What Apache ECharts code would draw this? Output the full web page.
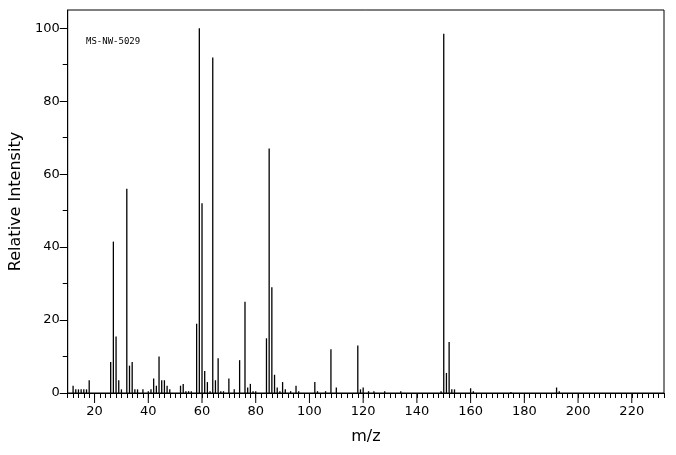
<!DOCTYPE html>
<html><head><meta charset="utf-8">
<script src="https://cdn.jsdelivr.net/npm/echarts@6/dist/echarts.min.js"></script>
</head><body style="margin:0">
<div id="c" style="width:676px;height:455px"></div>
<script>
const mz = [12,13,14,15,16,17,18,26,27,28,29,30,32,33,34,35,36,38,40,41,42,43,44,45,46,47,48,52,53,54,55,56,58,59,60,61,62,63,64,65,66,67,68,70,72,74,76,77,78,79,80,84,85,86,87,88,89,90,91,93,95,96,102,103,106,108,110,118,119,120,122,124,128,134,149,150,151,152,153,154,160,161,175,192,193];
const intensity = [2,1,1,1,1,1,3.5,8.5,41.5,15.5,3.5,1,56,7.5,8.5,1,1,1,0.5,1,4,2,10,3.5,3.5,2,1,2,2.5,0.5,0.5,0.5,19,100,52,6,3,0.5,92,3.5,9.5,0.5,0.5,4,1,9,25,1.5,2.5,0.5,0.5,15,67,29,5,1.5,0.5,3,1,0.5,2,0.5,3,0.5,0.5,12,1.5,13,1,1.5,0.5,0.5,0.5,0.5,0.5,98.5,5.5,14,1,1,1.3,0.5,0.3,1.5,0.5];
const xTicks = [20,40,60,80,100,120,140,160,180,200,220];
const yTicks = [0,20,40,60,80,100];
const title = 'MS-NW-5029';
const ch = echarts.init(document.getElementById('c'));
const font = 'DejaVu Sans';
const XMIN = 10, XMAX = 232;
ch.setOption({
  animation:false,
  grid:{left:63,right:12,top:10,bottom:62,show:true,borderColor:'#000',borderWidth:1},
  graphic:[{type:'text',left:86,top:37,style:{text:title,font:'9px "DejaVu Sans Mono"',fill:'#000'}}],
  xAxis:{type:'value',min:XMIN,max:XMAX,interval:2,name:'m/z',nameLocation:'middle',nameGap:36,
    nameTextStyle:{fontFamily:font,fontSize:16,color:'#000'},
    axisLine:{show:true,onZero:false,lineStyle:{color:'#000'}},
    axisTick:{show:true,length:5,lineStyle:{color:'#000'}},
    axisLabel:{fontFamily:font,fontSize:13,color:'#000',margin:12,customValues:xTicks},
    splitLine:{show:false}},
  yAxis:{type:'value',min:0,max:105,interval:20,name:'Relative Intensity',nameLocation:'middle',nameGap:40,
    nameTextStyle:{fontFamily:font,fontSize:16,color:'#000'},
    axisLine:{show:true,lineStyle:{color:'#000'}},
    axisTick:{show:true,length:8,lineStyle:{color:'#000'},customValues:yTicks},
    minorTick:{show:true,splitNumber:2,length:5,lineStyle:{color:'#000'}},
    axisLabel:{fontFamily:font,fontSize:13,color:'#000',customValues:yTicks},
    splitLine:{show:false}},
  series:[
    {type:'bar',barWidth:1.3,itemStyle:{color:'#000'},data:mz.map((m,i)=>[m,intensity[i]])},
    {type:'custom',silent:true,clip:false,data:xTicks.map(v=>[v,0]),
     renderItem:(p,api)=>{const c=api.coord([api.value(0),0]);
       return {type:'line',shape:{x1:c[0],y1:c[1],x2:c[0],y2:c[1]+10},style:{stroke:'#000',lineWidth:1}};}}
  ]
});
</script></body></html>
